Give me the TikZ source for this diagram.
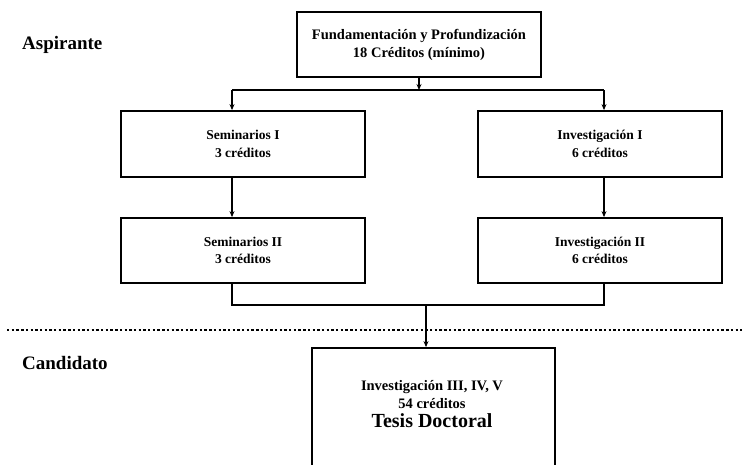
\documentclass[tikz,border=0pt]{standalone}
\usepackage{fontspec}
\setmainfont{Liberation Serif}
\usetikzlibrary{arrows.meta}
\begin{document}
\begin{tikzpicture}[x=1pt,y=-1pt,
  box/.style={draw, line width=1.8pt, align=center, inner sep=0pt,
    font=\bfseries\fontsize{13.5}{17.5}\selectfont},
  topfont/.style={font=\bfseries\fontsize{14.5}{18}\selectfont},
  conn/.style={line width=1.4pt},
  arr/.style={conn, -{Stealth[length=6pt,width=5pt]}},
  lab/.style={font=\bfseries\fontsize{19}{22}\selectfont, anchor=west, inner sep=0pt},
  txt/.style={inner sep=0pt, font=\bfseries\fontsize{14.5}{16}\selectfont},
  big/.style={inner sep=0pt, font=\bfseries\fontsize{20}{22}\selectfont},
  dotline/.style={line width=2.2pt, dash pattern=on 2.4pt off 2.3pt}]
\useasboundingbox (0,0) rectangle (742,464);
\clip (0,0) rectangle (742,464);
% labels
\node[lab] (asp) at (22,45) {Aspirante};
\node[lab] (cand) at (22,363) {Candidato};
% boxes
\node[box, topfont, minimum width=244pt, minimum height=65pt] (fund) at (419,44.5)
  {Fundamentación y Profundización\\18 Créditos (mínimo)};
\node[box, minimum width=244pt, minimum height=66pt] (sem1) at (243,144)
  {Seminarios I\\3 créditos};
\node[box, minimum width=244pt, minimum height=66pt] (inv1) at (600,144)
  {Investigación I\\6 créditos};
\node[box, minimum width=244pt, minimum height=65pt] (sem2) at (243,250.5)
  {Seminarios II\\3 créditos};
\node[box, minimum width=244pt, minimum height=65pt] (inv2) at (600,250.5)
  {Investigación II\\6 créditos};
\node[box, minimum width=243pt, minimum height=130pt] (tesis) at (433.5,413) {};
\node[txt] (t1) at (432,387) {Investigación III, IV, V};
\node[txt] (t2) at (432,404) {54 créditos};
\node[big] (t3) at (432,421) {Tesis Doctoral};
% connectors
\coordinate (jtop) at (419,90);
\coordinate (jl) at (232,90);
\coordinate (jr) at (604,90);
\coordinate (bl) at (232,305);
\coordinate (br) at (604,305);
\coordinate (bm) at (426,305);
\coordinate (dl) at (7,330);
\coordinate (dr) at (742,330);
\draw[arr] (fund.south) -- (jtop);
\draw[conn] (jl) -- (jr);
\draw[arr] (jl) -- (jl |- sem1.north);
\draw[arr] (jr) -- (jr |- inv1.north);
\draw[arr] (sem1.south -| jl) -- (sem2.north -| jl);
\draw[arr] (inv1.south -| jr) -- (inv2.north -| jr);
\draw[conn] (sem2.south -| bl) -- (bl) -- (br) -- (inv2.south -| br);
\draw[arr] (bm) -- (bm |- tesis.north);
\draw[dotline] (dl) -- (dr);
\end{tikzpicture}
\end{document}
